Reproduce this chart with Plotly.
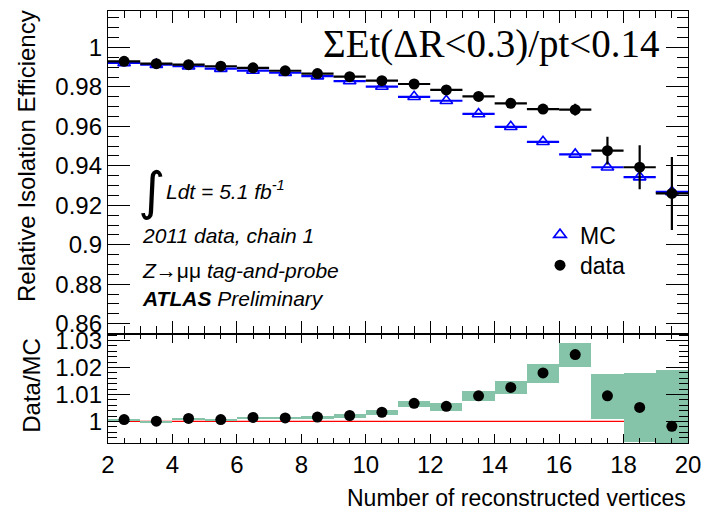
import plotly.graph_objects as go

# ---- data ----
n_vtx = [2.5, 3.5, 4.5, 5.5, 6.5, 7.5, 8.5, 9.5, 10.5, 11.5, 12.5, 13.5, 14.5, 15.5, 16.5, 17.5, 18.5, 19.5]
data_eff = [0.9930, 0.9918, 0.9913, 0.9905, 0.9897, 0.9882, 0.9868, 0.9852, 0.9832, 0.9815, 0.9785, 0.9752,
            0.9717, 0.9688, 0.9685, 0.9477, 0.9393, 0.9260]
data_err = [0.0004, 0.0004, 0.0004, 0.0004, 0.0005, 0.0005, 0.0005, 0.0006, 0.0007, 0.0008, 0.0009, 0.0010,
            0.0012, 0.0017, 0.0030, 0.0070, 0.0112, 0.0185]
mc_eff = [0.9922, 0.9913, 0.9905, 0.9893, 0.9883, 0.9872, 0.9855, 0.9830, 0.9802, 0.9750, 0.9730, 0.9663,
          0.9598, 0.9522, 0.9458, 0.9393, 0.9343, 0.9268]
ratio = [1.0007, 1.0001, 1.0011, 1.0007, 1.0015, 1.0013, 1.0016, 1.0022, 1.0034, 1.0067, 1.0056, 1.0095,
         1.0126, 1.0180, 1.0248, 1.0095, 1.0052, 0.9982]
ratio_err = [0.0004, 0.0004, 0.0004, 0.0004, 0.0004, 0.0004, 0.0005, 0.0007, 0.0009, 0.0010, 0.0014, 0.0018,
             0.0024, 0.0034, 0.0046, 0.0083, 0.0128, 0.0209]
bin_half = [0.5] * len(n_vtx)

x_ticks = [2, 4, 6, 8, 10, 12, 14, 16, 18, 20]
top_ticks = [0.86, 0.88, 0.9, 0.92, 0.94, 0.96, 0.98, 1.0]
top_labels = ["0.86", "0.88", "0.9", "0.92", "0.94", "0.96", "0.98", "1"]
bot_ticks = [1.0, 1.01, 1.02, 1.03]
bot_labels = ["1", "1.01", "1.02", "1.03"]

# ---- layout geometry ----
W, H = 716, 517
L, R, T, B = 108, 28, 5, 74
PW, PH = W - L - R, H - T - B
split = 332
dom_split = (H - B - split) / PH

def px(xp):
    return (xp - L) / PW

def py(yp):
    return (H - B - yp) / PH

SANS = "Liberation Sans"
SERIF = "Liberation Serif"
green = "#85C4A8"

fig = go.Figure()

# MC
fig.add_trace(go.Scatter(
    x=n_vtx, y=mc_eff, mode="markers", name="MC", legend="legend",
    marker=dict(symbol="triangle-up-open", size=11, color="#0000FF", line=dict(width=1.6, color="#0000FF")),
    error_x=dict(type="data", array=bin_half, color="#0000FF", thickness=2.2, width=0),
    xaxis="x", yaxis="y",
))
# data
fig.add_trace(go.Scatter(
    x=n_vtx, y=data_eff, mode="markers", name="data", legend="legend2",
    marker=dict(symbol="circle", size=11, color="black"),
    error_x=dict(type="data", array=bin_half, color="black", thickness=2.2, width=0),
    error_y=dict(type="data", array=data_err, color="black", thickness=2.2, width=0),
    xaxis="x", yaxis="y",
))

# ratio band
fig.add_trace(go.Bar(
    x=n_vtx, y=[2 * e for e in ratio_err], base=[r - e for r, e in zip(ratio, ratio_err)],
    width=1.0, marker=dict(color=green, line=dict(width=0)), showlegend=False,
    xaxis="x2", yaxis="y2",
))
# ratio points
fig.add_trace(go.Scatter(
    x=n_vtx, y=ratio, mode="markers", showlegend=False,
    marker=dict(symbol="circle", size=11, color="black"),
    xaxis="x2", yaxis="y2",
))

axis_common = dict(
    showline=True, linecolor="black", linewidth=1.3, mirror="allticks",
    ticks="inside", tickcolor="black", tickwidth=1.2,
    showgrid=False, zeroline=False,
    tickfont=dict(family=SANS, size=24, color="black"),
)

legend_common = dict(
    xanchor="left", yanchor="top",
    font=dict(family=SANS, size=23, color="black"),
    bgcolor="rgba(0,0,0,0)", itemwidth=30, tracegroupgap=0,
)

fig.update_layout(
    width=W, height=H,
    margin=dict(l=L, r=R, t=T, b=B),
    paper_bgcolor="white", plot_bgcolor="white",
    bargap=0,
    showlegend=True,
    legend=dict(x=px(540), y=py(210), **legend_common),
    legend2=dict(x=px(540), y=py(241), **legend_common),
    xaxis=dict(
        range=[2, 20], domain=[0, 1], anchor="y", tickvals=x_ticks, showticklabels=False, ticklen=12,
        minor=dict(dtick=0.5, tick0=2, ticklen=7, ticks="inside", tickcolor="black", tickwidth=1.2),
        **axis_common,
    ),
    yaxis=dict(
        range=[0.855, 1.0185], domain=[dom_split, 1], anchor="x",
        tickvals=top_ticks, ticktext=top_labels, ticklen=22,
        minor=dict(dtick=0.005, tick0=0.86, ticklen=11, ticks="inside", tickcolor="black", tickwidth=1.2),
        **axis_common,
    ),
    xaxis2=dict(
        range=[2, 20], domain=[0, 1], anchor="y2", tickvals=x_ticks, ticklen=9,
        minor=dict(dtick=0.5, tick0=2, ticklen=5, ticks="inside", tickcolor="black", tickwidth=1.2),
        **axis_common,
    ),
    yaxis2=dict(
        range=[0.992, 1.0326], domain=[0, dom_split], anchor="x2",
        tickvals=bot_ticks, ticktext=bot_labels, ticklen=22,
        minor=dict(dtick=0.002, tick0=1.0, ticklen=9, ticks="inside", tickcolor="black", tickwidth=1.2),
        **axis_common,
    ),
    shapes=[dict(type="line", xref="x2", yref="y2", x0=2, x1=20, y0=1, y1=1,
                 line=dict(color="red", width=1.2), layer="below")],
)

ann = []
def add_text(text, xpix, ypix, size, family=SANS, xanchor="left", yanchor="middle", angle=0):
    ann.append(dict(text=text, x=px(xpix), y=py(ypix), xref="paper", yref="paper",
                    xanchor=xanchor, yanchor=yanchor, showarrow=False, textangle=angle,
                    font=dict(family=family, size=size, color="black")))

add_text("ΣEt(ΔR&lt;0.3)/pt&lt;0.14", 662, 38, 39, family=SERIF, xanchor="right")
add_text("∫", 136, 188, 52, family="DejaVu Sans")
add_text("<i>Ldt = 5.1 fb</i><sup><i>-1</i></sup>", 164, 186, 21)
add_text("<i>2011 data, chain 1</i>", 140, 233, 21)
add_text("<i>Z</i>→μμ <i>tag-and-probe</i>", 140, 268, 21)
add_text("<b><i>ATLAS</i></b> <i>Preliminary</i>", 140, 296, 21)
add_text("Number of reconstructed vertices", 688, 499, 23, xanchor="right")
add_text("Relative Isolation Efficiency", 27, 152, 24, xanchor="center", angle=-90)
add_text("Data/MC", 32, 385, 24, xanchor="center", angle=-90)
fig.update_layout(annotations=ann)

fig.write_html("out.html")
